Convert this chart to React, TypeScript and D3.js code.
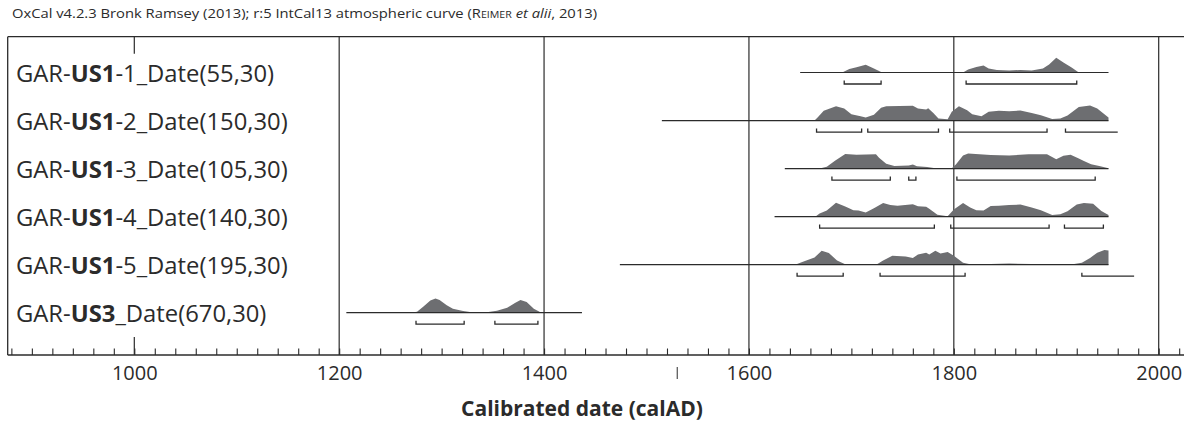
import React, { useEffect, useRef } from "react";
import * as d3 from "d3";

// OxCal multiplot: six calibrated dates

const labelPrefix = ["GAR-", "GAR-", "GAR-", "GAR-", "GAR-", "GAR-"];
const labelBold = ["US1", "US1", "US1", "US1", "US1", "US3"];
const labelSuffix = [
  "-1_Date(55,30)",
  "-2_Date(150,30)",
  "-3_Date(105,30)",
  "-4_Date(140,30)",
  "-5_Date(195,30)",
  "_Date(670,30)",
];

// extent of the calibrated range line for each row (calAD)
const rangeStart = [1650, 1515, 1635, 1625, 1474, 1207];
const rangeEnd = [1951, 1951, 1951, 1951, 1951, 1437];

// probability (relative) [year, p]
const prob1: [number, number][] = [
  [1691, 0], [1698, 0.23], [1705, 0.35], [1714, 0.51], [1722, 0.27], [1730, 0],
  [1809, 0], [1814, 0.2], [1822, 0.37], [1829, 0.47], [1834, 0.27], [1842, 0.17],
  [1854, 0.13], [1865, 0.17], [1876, 0.13], [1887, 0.27], [1893, 0.53], [1900, 0.98],
  [1907, 0.67], [1915, 0.33], [1922, 0],
];
const prob2: [number, number][] = [
  [1664, 0], [1667, 0.2], [1673, 0.65], [1685, 0.95], [1693, 0.8], [1700, 0.42],
  [1709, 0.29], [1714, 0.2], [1722, 0.38], [1729, 0.85], [1734, 0.95], [1760, 0.98],
  [1765, 0.8], [1773, 0.73], [1775, 0.82], [1780, 0.51], [1785, 0.13], [1794, 0.09],
  [1798, 0.58], [1805, 0.95], [1813, 0.69], [1818, 0.42], [1827, 0.29], [1834, 0.58],
  [1844, 0.65], [1854, 0.62], [1865, 0.67], [1876, 0.51], [1885, 0.35], [1896, 0.11],
  [1904, 0.13], [1911, 0.33], [1922, 0.91], [1933, 1.0], [1940, 0.8], [1951, 0.2], [1951, 0],
];
const prob3: [number, number][] = [
  [1669, 0], [1676, 0.13], [1684, 0.53], [1694, 0.98], [1705, 0.93], [1724, 0.95],
  [1727, 0.73], [1734, 0.33], [1742, 0.18], [1756, 0.2], [1760, 0.27], [1764, 0.15],
  [1774, 0.1], [1782, 0.03], [1798, 0.02], [1802, 0.27], [1809, 0.87], [1814, 1.0],
  [1836, 0.91], [1854, 0.87], [1873, 0.95], [1891, 0.95], [1900, 0.62], [1907, 0.85],
  [1914, 0.93], [1922, 0.67], [1927, 0.51], [1934, 0.29], [1942, 0.18], [1951, 0.03],
];
const prob4: [number, number][] = [
  [1665, 0], [1669, 0.2], [1676, 0.4], [1685, 0.93], [1694, 0.67], [1702, 0.42],
  [1707, 0.4], [1714, 0.27], [1722, 0.55], [1731, 0.91], [1738, 0.78], [1745, 0.73],
  [1760, 0.82], [1765, 0.69], [1773, 0.65], [1776, 0.53], [1784, 0.13], [1794, 0.02],
  [1800, 0.47], [1809, 0.91], [1816, 0.6], [1822, 0.42], [1829, 0.4], [1836, 0.71],
  [1844, 0.73], [1854, 0.78], [1865, 0.8], [1876, 0.6], [1885, 0.42], [1896, 0.11],
  [1904, 0.15], [1911, 0.35], [1920, 0.8], [1927, 0.91], [1936, 0.85], [1944, 0.38], [1951, 0.11],
];
const prob5: [number, number][] = [
  [1645, 0], [1654, 0.22], [1664, 0.47], [1671, 0.93], [1678, 0.78], [1686, 0.27],
  [1694, 0.02], [1725, 0.02], [1731, 0.27], [1740, 0.6], [1753, 0.55], [1760, 0.45],
  [1765, 0.67], [1773, 0.8], [1776, 0.67], [1782, 0.93], [1787, 0.75], [1794, 0.85],
  [1800, 0.6], [1809, 0.13], [1816, 0.02], [1836, 0.05], [1854, 0.07], [1876, 0.05],
  [1916, 0.02], [1925, 0.13], [1933, 0.45], [1940, 0.8], [1947, 0.98], [1951, 0.95], [1951, 0],
];
const prob6: [number, number][] = [
  [1269, 0], [1276, 0.07], [1282, 0.4], [1289, 0.82], [1294, 0.95], [1298, 0.85],
  [1305, 0.49], [1311, 0.27], [1321, 0.11], [1331, 0.02], [1344, 0.03], [1354, 0.13],
  [1364, 0.33], [1372, 0.67], [1377, 0.85], [1383, 0.71], [1390, 0.27], [1396, 0.05], [1401, 0],
];
const probs = [prob1, prob2, prob3, prob4, prob5, prob6];

// 95.4% ranges [from, to, right end closed]
const ranges1: [number, number, boolean][] = [[1693, 1729, true], [1812, 1920, true]];
const ranges2: [number, number, boolean][] = [[1666, 1710, true], [1716, 1785, true], [1796, 1891, true], [1909, 1960, false]];
const ranges3: [number, number, boolean][] = [[1681, 1738, true], [1756, 1763, true], [1803, 1938, true]];
const ranges4: [number, number, boolean][] = [[1669, 1781, true], [1797, 1893, true], [1908, 1946, true]];
const ranges5: [number, number, boolean][] = [[1647, 1692, true], [1728, 1811, true], [1925, 1976, false]];
const ranges6: [number, number, boolean][] = [[1275, 1322, true], [1352, 1394, true]];
const ranges = [ranges1, ranges2, ranges3, ranges4, ranges5, ranges6];

const majorYears = [1000, 1200, 1400, 1600, 1800, 2000];
const gridYears = [1200, 1400, 1600, 1800, 2000];
const minorYears = d3.range(880, 2021, 20);

const W = 1184;
const H = 428;
const left = 7.7;
const top = 36.7;
const axisY = 355;
const font = "'Open Sans', sans-serif";
const ink = "#2b2b2b";

function App() {
  const minorRef = useRef<SVGGElement>(null);
  const labelRef = useRef<SVGGElement>(null);

  const x = d3.scaleLinear().domain([1000, 2000]).range([134.3, 1158.7]);
  const rowY = d3.scaleLinear().domain([0, 5]).range([72.5, 312.7]);
  const ph = d3.scaleLinear().domain([0, 1]).range([0, 15]);

  useEffect(() => {
    const minor = d3
      .axisBottom(x)
      .tickValues(minorYears)
      .tickSizeInner(-6.5)
      .tickSizeOuter(0)
      .tickFormat(() => "");
    d3.select(minorRef.current!)
      .call(minor)
      .call((g) => g.select(".domain").remove())
      .call((g) => g.selectAll("line").attr("stroke", ink).attr("stroke-width", 1.1));

    const labels = d3
      .axisBottom(x)
      .tickValues(majorYears)
      .tickSize(0)
      .tickPadding(10.5)
      .tickFormat(d3.format("d"));
    d3.select(labelRef.current!)
      .call(labels)
      .call((g) => g.select(".domain").remove())
      .call((g) =>
        g.selectAll("text").attr("font-family", font).attr("font-size", 20).attr("fill", ink)
      );
  }, []);

  return (
    <svg
      width={W}
      height={H}
      style={{ position: "absolute", left: 0, top: 0, background: "#fff" }}
    >
      <text
        x={12}
        y={17.5}
        fontFamily={font}
        fontSize={12.5}
        fill={ink}
        textLength={585}
        lengthAdjust="spacingAndGlyphs"
      >
        OxCal v4.2.3 Bronk Ramsey (2013); r:5 IntCal13 atmospheric curve (
        <tspan style={{ fontVariant: "small-caps" }}>Reimer</tspan>{" "}
        <tspan fontStyle="italic">et alii</tspan>, 2013)
      </text>

      {/* frame */}
      <line x1={left} x2={W} y1={top} y2={top} stroke={ink} strokeWidth={1.3} />
      <line x1={left} x2={left} y1={top} y2={axisY} stroke={ink} strokeWidth={1.3} />
      {gridYears.map((yr) => (
        <line key={yr} x1={x(yr)} x2={x(yr)} y1={top} y2={axisY} stroke={ink} strokeWidth={1.2} />
      ))}
      <line x1={x(1000)} x2={x(1000)} y1={top} y2={top + 17} stroke={ink} strokeWidth={1.2} />
      <line x1={x(1000)} x2={x(1000)} y1={axisY - 18} y2={axisY} stroke={ink} strokeWidth={1.2} />

      {probs.map((p, i) => {
        const base = rowY(i);
        const area = d3
          .area<[number, number]>()
          .x((d) => x(d[0]))
          .y0(base)
          .y1((d) => base - ph(d[1]));
        const by = base + 11.5;
        return (
          <g key={i}>
            <text x={16} y={base + 9.5} fontFamily={font} fontSize={23.8} fill={ink}>
              {labelPrefix[i]}
              <tspan fontWeight="bold">{labelBold[i]}</tspan>
              {labelSuffix[i]}
            </text>
            <path d={area(p) || ""} fill="#6d6e71" />
            <line
              x1={x(rangeStart[i])}
              x2={x(rangeEnd[i])}
              y1={base}
              y2={base}
              stroke={ink}
              strokeWidth={1.2}
            />
            {ranges[i].map(([a, b, closed], j) => (
              <path
                key={j}
                d={`M${x(a)},${by - 3.5}V${by}H${x(b)}${closed ? `V${by - 3.5}` : ""}`}
                fill="none"
                stroke={ink}
                strokeWidth={1.3}
              />
            ))}
          </g>
        );
      })}

      {/* axis */}
      <line x1={left} x2={W} y1={axisY} y2={axisY} stroke={ink} strokeWidth={1.3} />
      <g ref={minorRef} transform={`translate(0,${axisY})`} />
      <g ref={labelRef} transform={`translate(0,${axisY})`} />
      <line x1={x(1530)} x2={x(1530)} y1={367} y2={379} stroke={ink} strokeWidth={1} />

      <text
        x={x(1437)}
        y={416}
        textAnchor="middle"
        fontFamily={font}
        fontWeight="bold"
        fontSize={21}
        fill={ink}
      >
        Calibrated date (calAD)
      </text>
    </svg>
  );
}

export default App;
